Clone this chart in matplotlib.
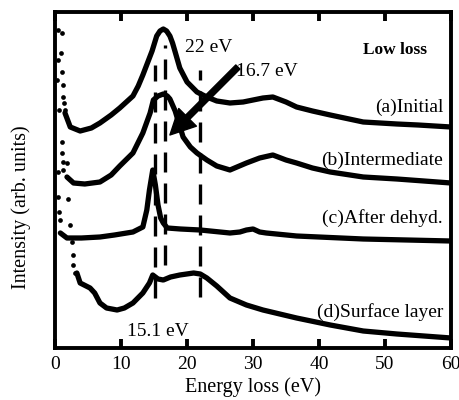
import numpy as np
import matplotlib
matplotlib.use('Agg')
import matplotlib.pyplot as plt

plt.rcParams['font.family'] = ['Liberation Serif', 'DejaVu Serif']

# energy loss (eV) and intensity (arb. units)
e_a = [1.5, 2.3, 3.8, 5.5, 6.8, 8.5, 9.8, 11.8, 12.6, 13.3, 14.0, 14.7, 15.4, 15.9, 16.4, 16.9,
       17.4, 17.8, 18.2, 18.9, 20, 21.5, 23, 24.5, 26.5, 28.5, 31.5, 33, 35, 36.6, 39, 41.7,
       46.7, 51.8, 55, 60]
i_a = [235, 221, 217, 220, 225, 233, 240, 252, 262, 273, 285, 297, 312, 317, 319, 317,
       312, 305, 296, 280, 266, 256, 251, 247, 245, 246, 250, 251, 246, 241, 237, 233,
       226, 224, 223, 221]

e_b = [1.8, 2.8, 4.5, 6.8, 8.5, 9.8, 11.8, 13.3, 14.4, 14.9, 15.6, 16.4, 17.0, 17.4, 18.2,
       19.4, 20.5, 21.5, 23, 24.5, 26.5, 29, 31, 33, 35, 36.6, 39, 41.7, 46.7, 51.8, 60]
i_b = [171, 165, 164, 166, 173, 182, 195, 215, 235, 248, 252, 254, 252, 249, 237,
       211, 201, 195, 188, 182, 178, 185, 190, 193, 188, 185, 180, 176, 171, 169, 165]

e_c = [0.8, 1.8, 4, 6.8, 9, 11.8, 13.3, 13.9, 14.3, 14.8, 15.2, 15.6, 16, 16.4, 17,
       19, 22, 26.5, 28, 29, 30, 31, 32, 36.6, 46.7, 60]
i_c = [115, 110, 110, 111, 113, 116, 121, 138, 158, 178, 163, 143, 130, 125, 120,
       119, 118, 115, 116, 118, 119, 116, 115, 112, 109, 107]

e_d = [3.3, 3.8, 5.3, 6, 6.8, 7.8, 9.4, 10.5, 11.8, 13.3, 14.3, 14.8, 15.6, 16.4, 17.5,
       18.9, 21, 22, 23, 24.5, 26.5, 29, 31.5, 36.6, 41.7, 46.7, 51.8, 60]
i_d = [75, 65, 60, 55, 45, 40, 38, 40, 45, 55, 65, 73, 69, 68, 71,
       73, 75, 74, 70, 62, 50, 43, 38, 30, 23, 17, 14, 10]

# separate points of the zero-loss tails
e_zlp = [0.45, 1.06, 0.9, 0.45, 1.06, 0.3, 1.2, 1.2, 1.36, 0.6, 1.5, 1.06, 1.06, 1.2, 1.8,
         0.45, 1.2, 0.45, 2.0, 0.6, 0.75, 2.3, 2.6, 2.7, 2.7, 3.0]
i_zlp = [318, 315, 295, 288, 276, 268, 263, 251, 245, 238, 238, 206, 195, 186, 185,
         176, 178, 151, 149, 136, 128, 123, 106, 93, 83, 75]

peaks = [15.1, 16.7, 22.0]
peak_lo = [50, 83, 51]
peak_hi = [283, 303, 278]

labels = ['(a)Initial', '(b)Intermediate', '(c)After dehyd.', '(d)Surface layer']
label_y = [241, 188, 130, 36]

fig = plt.figure(figsize=(4.59, 4.0), dpi=100)
ax = fig.add_axes([0.12, 0.13, 0.8626, 0.84])

for e, i in [(e_a, i_a), (e_b, i_b), (e_c, i_c), (e_d, i_d)]:
    ax.plot(e, i, color='k', lw=3.8, solid_capstyle='round', solid_joinstyle='round')
ax.plot(e_zlp, i_zlp, 'o', color='k', ms=3.4, mec='none')

for x, lo, hi in zip(peaks, peak_lo, peak_hi):
    ax.vlines(x, lo, hi, color='k', lw=2.4, linestyles=[(0, (6, 3.3))])

for lab, y in zip(labels, label_y):
    ax.text(58.8, y, lab, ha='right', va='center', fontsize=14)

ax.text(56.4, 298, 'Low loss', ha='right', va='center', fontsize=12.5, fontweight='bold')
ax.text(19.7, 301, '22 eV', ha='left', va='center', fontsize=14)
ax.text(27.4, 276, '16.7 eV', ha='left', va='center', fontsize=14)
ax.text(10.9, 16, '15.1 eV', ha='left', va='center', fontsize=14)

ax.annotate('', xy=(17.4, 213), xytext=(27.7, 281),
            arrowprops=dict(width=4.2, headwidth=18, headlength=18, color='k', shrink=0))

ax.set_xlim(0, 60)
ax.set_ylim(0, 336)
ax.set_xticks([0, 10, 20, 30, 40, 50, 60])
ax.set_yticks([])
ax.tick_params(axis='x', direction='in', top=True, length=6.5, width=2.8, labelsize=14, pad=6)
for s in ax.spines.values():
    s.set_linewidth(2.8)

ax.set_xlabel('Energy loss (eV)', fontsize=14.5, labelpad=3)
ax.set_ylabel('Intensity (arb. units)', fontsize=14.5)
ax.yaxis.set_label_coords(-0.06, 0.42)

fig.savefig('out.png', dpi=100)
